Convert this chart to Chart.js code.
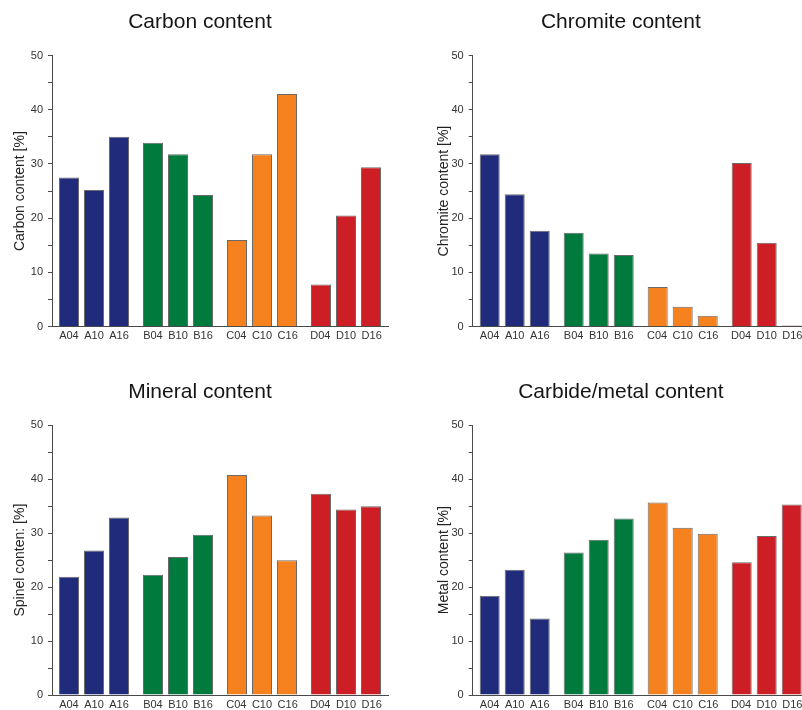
<!DOCTYPE html>
<html>
<head>
<meta charset="utf-8">
<script src="https://cdn.jsdelivr.net/npm/chart.js@4.4.1/dist/chart.umd.min.js"></script>
<style>
  html, body { margin: 0; padding: 0; background: #fff; }
  #page { position: relative; width: 802px; height: 710px; overflow: hidden; background: #fff; }
  #page canvas { position: absolute; }
</style>
</head>
<body>
<div id="page">
  <canvas id="carbon" width="388" height="350" style="left:12px;top:0px"></canvas>
  <canvas id="chromite" width="390" height="350" style="left:433px;top:0px"></canvas>
  <canvas id="mineral" width="388" height="340" style="left:12px;top:370px"></canvas>
  <canvas id="metal" width="390" height="340" style="left:433px;top:370px"></canvas>
</div>
<script>
// sample groups and depths -> A04, A10, A16 ...
const groups = ['A', 'B', 'C', 'D'];
const depths = ['04', '10', '16'];
const groupColors = ['#202b7b', '#007a3d', '#f5821f', '#cd1e25'];
const yTicks = [0, 10, 20, 30, 40, 50];

// values in the order A04 A10 A16 B04 B10 B16 C04 C10 C16 D04 D10 D16
const carbon   = [27.5, 25.2, 35.0, 33.9, 31.8, 24.3, 16.0, 31.8, 42.9, 7.8, 20.5, 29.4];
const chromite = [31.8, 24.4, 17.7, 17.3, 13.5, 13.2, 7.3, 3.7, 2.0, 30.2, 15.5, 0.2];
const spinel   = [21.9, 26.8, 32.9, 22.3, 25.6, 29.7, 40.8, 33.3, 25.0, 37.3, 34.4, 35.0];
const metal    = [18.4, 23.2, 14.2, 26.4, 28.8, 32.7, 35.7, 31.0, 29.9, 24.6, 29.5, 35.3];

const groupLabels = groups.map(g => depths.map(d => g + d).join('\u2002'));

// page layout of each panel (absolute px)
const panels = [
  { id: 'carbon',   title: 'Carbon content',       yTitle: 'Carbon content [%]',   values: carbon,
    L: 12,  T: 0,   W: 388, H: 350, axisX: 52,    plotRight: 388,   plotTop: 55.5,  plotBottom: 326.7, yTitleX: 20,  titleY: 22 },
  { id: 'chromite', title: 'Chromite content',     yTitle: 'Chromite content [%]', values: chromite,
    L: 433, T: 0,   W: 390, H: 350, axisX: 472.7, plotRight: 808.7, plotTop: 55.5,  plotBottom: 326.7, yTitleX: 444, titleY: 22 },
  { id: 'mineral',  title: 'Mineral content',      yTitle: 'Spinel conten: [%]',   values: spinel,
    L: 12,  T: 370, W: 388, H: 340, axisX: 52,    plotRight: 388,   plotTop: 425.3, plotBottom: 695,   yTitleX: 20,  titleY: 392 },
  { id: 'metal',    title: 'Carbide/metal content', yTitle: 'Metal content [%]',   values: metal,
    L: 433, T: 370, W: 390, H: 340, axisX: 472.7, plotRight: 808.7, plotTop: 425.3, plotBottom: 695,   yTitleX: 444, titleY: 392 }
];

function makeChart(p) {
  const titleSize = 21, titleLH = 1.2;
  const titlePadTop = (p.titleY - p.T) - titleSize * titleLH / 2;
  const titlePadBottom = (p.plotTop - p.T) - titlePadTop - titleSize * titleLH;
  const yWidth = p.axisX - p.L;
  const xHeight = (p.T + p.H) - p.plotBottom;

  const datasets = depths.map((d, k) => ({
    label: d,
    data: groups.map((g, j) => p.values[j * depths.length + k]),
    backgroundColor: groupColors,
    borderColor: '#6a6a6a',
    borderWidth: 1,
    categoryPercentage: 0.893,
    barPercentage: 0.8
  }));

  return new Chart(document.getElementById(p.id), {
    type: 'bar',
    data: { labels: groupLabels, datasets: datasets },
    options: {
      responsive: false,
      animation: false,
      layout: { padding: { left: 0, top: 0, bottom: 0, right: p.L + p.W - p.plotRight } },
      plugins: {
        legend: { display: false },
        tooltip: { enabled: false },
        title: {
          display: true,
          text: p.title,
          color: '#151515',
          font: { family: 'Liberation Sans, Arial, sans-serif', size: titleSize, weight: 'normal', lineHeight: titleLH },
          padding: { top: titlePadTop, bottom: titlePadBottom }
        }
      },
      scales: {
        x: {
          grid: { display: false, drawTicks: false },
          border: { display: true, color: '#4a4a4a', width: 1 },
          ticks: {
            color: '#333',
            padding: 3,
            maxRotation: 0,
            autoSkip: false,
            font: { family: 'Liberation Sans, Arial, sans-serif', size: 11 }
          },
          afterFit: (s) => { s.height = xHeight; }
        },
        y: {
          min: 0,
          max: 50,
          grid: { display: true, drawOnChartArea: false, drawTicks: true, tickLength: 4, color: '#4a4a4a' },
          border: { display: true, color: '#4a4a4a', width: 1 },
          ticks: {
            stepSize: 5,
            padding: 5,
            color: '#333',
            font: { family: 'Liberation Sans, Arial, sans-serif', size: 11 },
            callback: (v) => yTicks.includes(v) ? v : ''
          },
          title: {
            display: true,
            text: p.yTitle,
            color: '#222',
            font: { family: 'Liberation Sans, Arial, sans-serif', size: 14, lineHeight: 1 },
            padding: { top: (p.yTitleX - p.L) - 7, bottom: 0 }
          },
          afterFit: (s) => { s.width = yWidth; }
        }
      }
    }
  });
}

panels.forEach(makeChart);
</script>
</body>
</html>
